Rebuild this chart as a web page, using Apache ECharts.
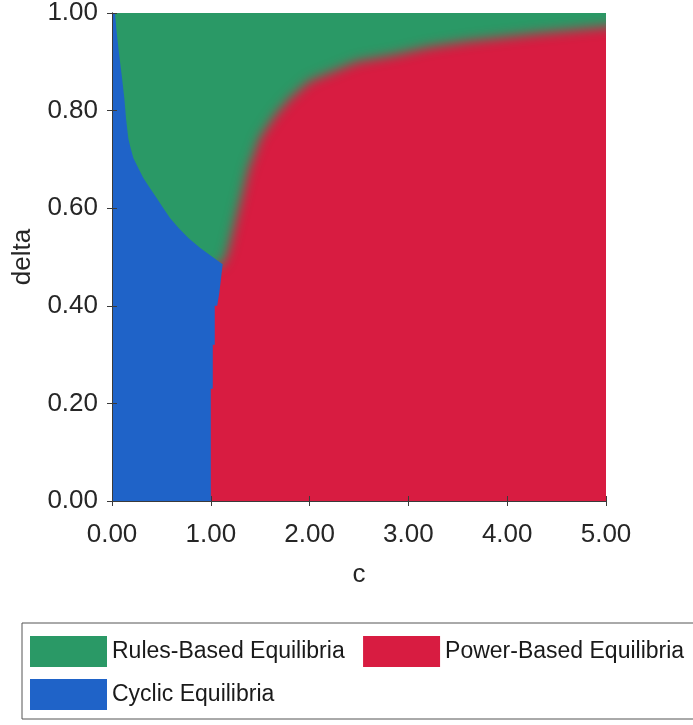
<!DOCTYPE html>
<html><head><meta charset="utf-8">
<script src="https://cdn.jsdelivr.net/npm/echarts@6/dist/echarts.min.js"></script>
<style>html,body{margin:0;padding:0;background:#fff;} #chart{width:693px;height:725px;}</style>
</head><body><div id="chart"></div>
<script>
// ---- data ----
const cTicks = [0, 1, 2, 3, 4, 5];
const deltaTicks = [0, 0.2, 0.4, 0.6, 0.8, 1.0];
const seriesNames = ['Rules-Based Equilibria', 'Power-Based Equilibria', 'Cyclic Equilibria'];
const seriesColors = ['#2a9966', '#d81c41', '#1f63c8'];
// Rules / Power boundary (c, delta), from the triple junction to the right edge
const rulesPowerBoundary = [[1.12,0.485],[1.17,0.51],[1.22,0.55],[1.30,0.614],[1.38,0.68],[1.50,0.745],[1.65,0.79],[1.80,0.825],[2.0,0.86],[2.48,0.90],[2.86,0.914],[3.2,0.93],[3.6,0.942],[4.3,0.958],[5.0,0.972]];
// Cyclic / Rules boundary, from the junction up to the top edge
const cyclicRulesBoundary = [[1.12,0.485],[1.025,0.499],[0.89,0.519],[0.773,0.539],[0.672,0.56],[0.587,0.58],[0.52,0.60],[0.452,0.621],[0.385,0.641],[0.317,0.662],[0.267,0.682],[0.216,0.703],[0.189,0.723],[0.165,0.743],[0.142,0.784],[0.125,0.825],[0.098,0.873],[0.071,0.917],[0.047,0.961],[0.03,1.0]];
// Cyclic / Power boundary, from the bottom edge up to the junction
const cyclicPowerBoundary = [[1.0,0],[1.0,0.23],[1.02,0.23],[1.02,0.32],[1.04,0.32],[1.04,0.40],[1.065,0.40],[1.085,0.425],[1.10,0.45],[1.12,0.485]];

const cMin = cTicks[0], cMax = cTicks[cTicks.length - 1];
const dMin = deltaTicks[0], dMax = deltaTicks[deltaTicks.length - 1];

// polygons (data coordinates)
const powerPoly = [[cMin, dMin], [cMax, dMin], [cMax, dMax], [cMin, dMax]];
const lastRP = rulesPowerBoundary[rulesPowerBoundary.length - 1];
const rulesPoly = [[cMin - 0.5, dMax + 0.2], [cMax + 0.5, dMax + 0.2], [cMax + 0.5, lastRP[1] + 0.005]]
  .concat(rulesPowerBoundary.slice().reverse())
  .concat([[0.9, 0.47], [0.3, 0.3], [cMin - 0.5, 0.3]]);
const cyclicPoly = [[cMin, dMin]].concat(cyclicPowerBoundary).concat(cyclicRulesBoundary.slice(1)).concat([[cMin, dMax]]);

const FONT = '"Liberation Sans", Arial, Helvetica, sans-serif';
const TXT = '#262626';
const LINE = '#3a3a3a';
const OFF = 3000;

function makeSeries(name, color, poly, blur) {
  return {
    type: 'custom', name: name, coordinateSystem: 'cartesian2d', xAxisIndex: 0, yAxisIndex: 0,
    clip: true, silent: true, itemStyle: { color: color },
    data: [[cMin, dMin]],
    renderItem: function (params, api) {
      const pts = poly.map(p => api.coord(p));
      if (blur) {
        return { type: 'polygon', x: OFF, shape: { points: pts },
          style: { fill: color, shadowBlur: blur, shadowColor: color, shadowOffsetX: -OFF } };
      }
      return { type: 'polygon', shape: { points: pts }, style: { fill: color } };
    }
  };
}

const axisCommon = {
  axisLine: { show: true, lineStyle: { color: LINE, width: 1 } },
  axisTick: { show: true, inside: false, length: 5, lineStyle: { color: LINE } },
  splitLine: { show: false },
  z: 10
};

const chart = echarts.init(document.getElementById('chart'), null, { renderer: 'canvas' });
chart.setOption({
  animation: false,
  backgroundColor: '#ffffff',
  grid: { left: 112, top: 10, width: 494, height: 491, containLabel: false },
  xAxis: [
    Object.assign({}, axisCommon, { type: 'value', position: 'bottom', min: cMin, max: cMax, interval: 1,
      axisLabel: { formatter: v => v.toFixed(2), fontSize: 26, color: TXT, fontFamily: FONT, margin: 21 },
      name: 'c', nameLocation: 'middle', nameGap: 61, nameTextStyle: { fontSize: 26, color: TXT, fontFamily: FONT } }),
    Object.assign({}, axisCommon, { type: 'value', position: 'top', min: cMin, max: cMax, interval: 1,
      axisLabel: { show: false } })
  ],
  yAxis: [
    Object.assign({}, axisCommon, { type: 'value', position: 'left', min: dMin, max: dMax, interval: 0.2,
      axisLabel: { formatter: v => v.toFixed(2), fontSize: 26, color: TXT, fontFamily: FONT, margin: 14 },
      name: 'delta', nameLocation: 'middle', nameGap: 76, nameRotate: 90, nameTextStyle: { fontSize: 26, color: TXT, fontFamily: FONT } }),
    Object.assign({}, axisCommon, { type: 'value', position: 'right', min: dMin, max: dMax, interval: 0.2,
      axisLabel: { show: false } })
  ],
  legend: {
    data: seriesNames, orient: 'horizontal', left: 22, top: 623, width: 690,
    padding: [13, 20, 9, 8], itemGap: 12, itemWidth: 77, itemHeight: 31, icon: 'rect',
    selectedMode: false, borderColor: '#555', borderWidth: 1,
    formatter: name => name + '\u00a0',
    textStyle: { fontSize: 23, color: '#1a1a1a', fontFamily: FONT }
  },
  series: [
    makeSeries(seriesNames[1], seriesColors[1], powerPoly, 0),
    makeSeries(seriesNames[0], seriesColors[0], rulesPoly, 12),
    makeSeries(seriesNames[2], seriesColors[2], cyclicPoly, 0)
  ]
});
</script></body></html>
